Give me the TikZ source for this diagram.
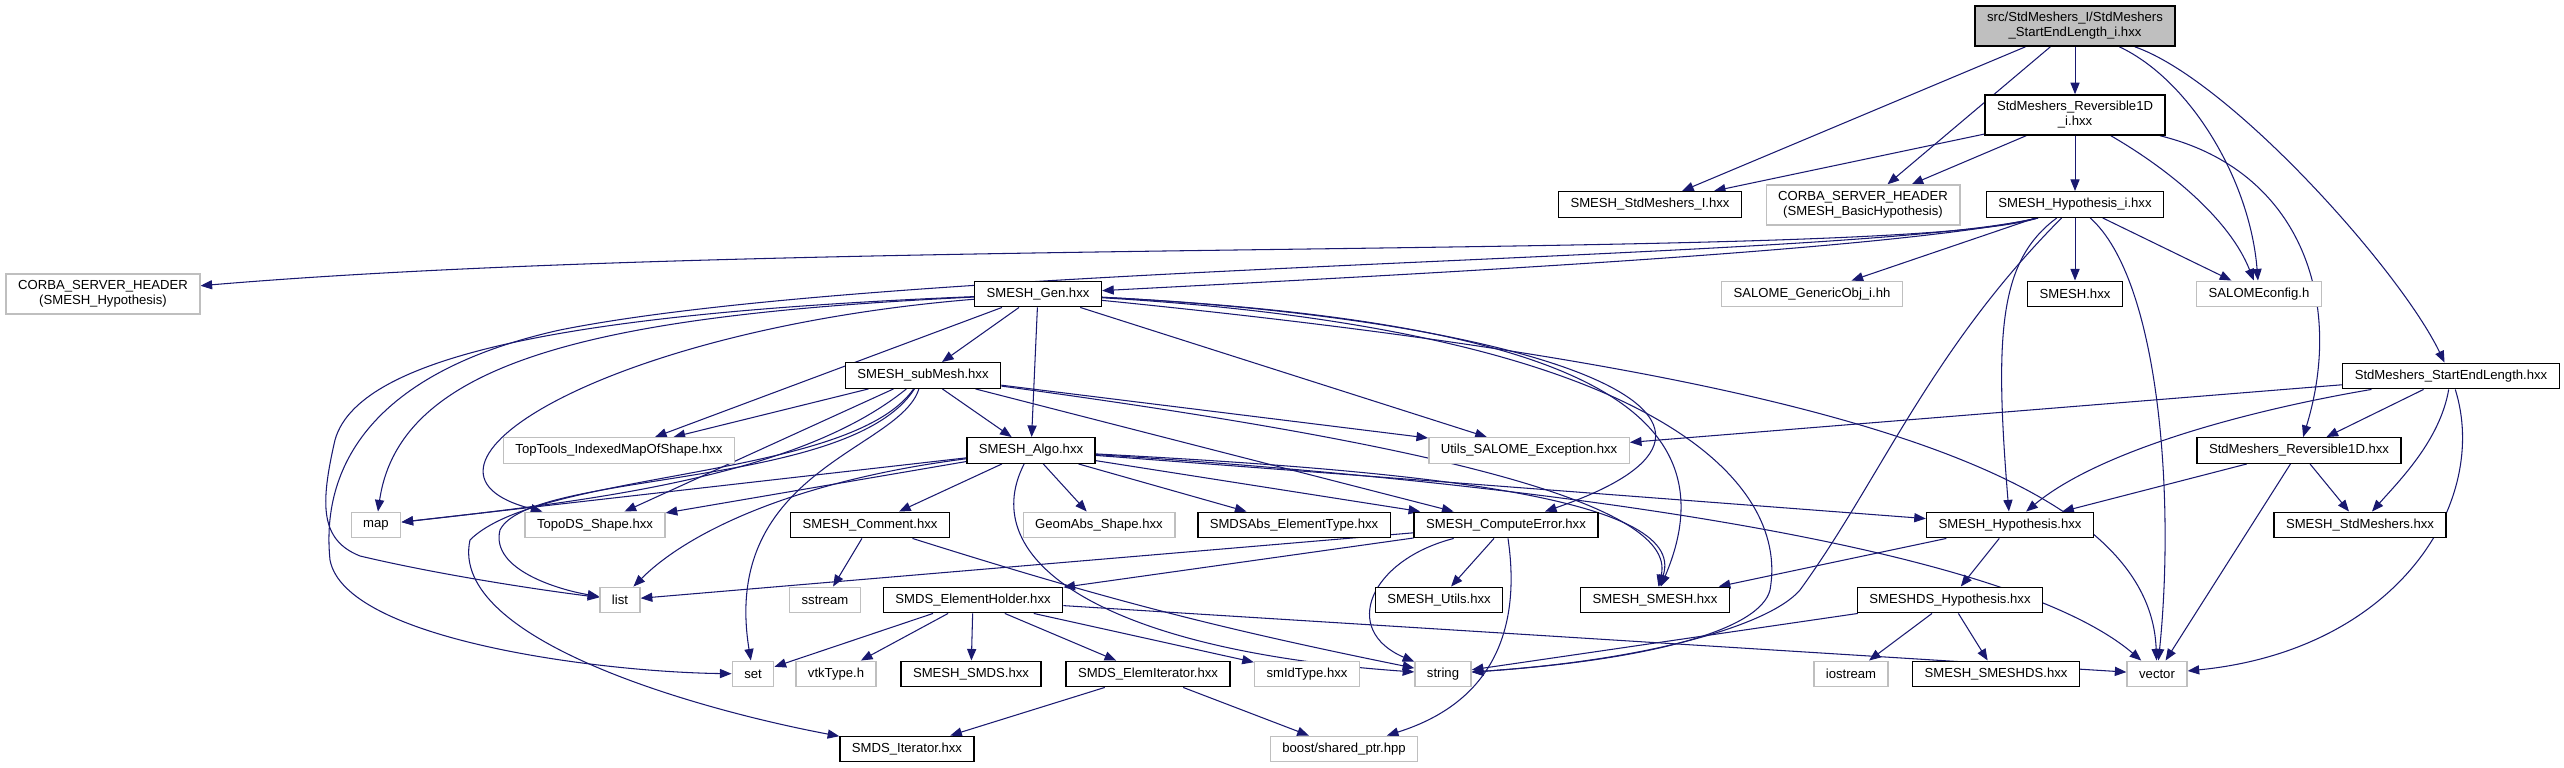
\documentclass[tikz,border=0pt]{standalone}
\usepackage{fontspec}
\setmainfont{Liberation Sans}
\usetikzlibrary{arrows.meta,backgrounds}
\definecolor{depblue}{RGB}{25,25,112}
\definecolor{boxgray}{RGB}{191,191,191}
\tikzset{
  file/.style={draw=black,line width=0.4pt,fill=white,align=center,inner xsep=0.12cm,inner ysep=0.065cm,minimum height=0.255cm,font=\fontsize{3.73pt}{4.27pt}\selectfont},
  extfile/.style={file,draw=boxgray},
  dep/.style={draw=depblue,line width=0.3pt,-{Triangle[length=3.3pt,width=2.6pt]}}
}

\begin{document}
\begin{tikzpicture}[x=0.01cm,y=0.01cm]
  \useasboundingbox (0,0) rectangle (2564,-768);

  \node[file,fill=boxgray] (root) at (2075,-26) {src/StdMeshers\_I/StdMeshers\\\_StartEndLength\_i.hxx};
  \node[file] (revi) at (2075,-115) {StdMeshers\_Reversible1D\\\_i.hxx};
  \node[file] (stdmi) at (1650,-204.5) {SMESH\_StdMeshers\_I.hxx};
  \node[extfile] (corbab) at (1863,-205) {CORBA\_SERVER\_HEADER\\(SMESH\_BasicHypothesis)};
  \node[file] (hypi) at (2075,-204.5) {SMESH\_Hypothesis\_i.hxx};
  \node[extfile] (corbah) at (103,-294) {CORBA\_SERVER\_HEADER\\(SMESH\_Hypothesis)};
  \node[file] (gen) at (1038,-294) {SMESH\_Gen.hxx};
  \node[extfile] (generic) at (1812,-294) {SALOME\_GenericObj\_i.hh};
  \node[file] (smesh) at (2075,-294) {SMESH.hxx};
  \node[extfile] (salcfg) at (2259,-294) {SALOMEconfig.h};
  \node[file] (submesh) at (923,-375.5) {SMESH\_subMesh.hxx};
  \node[file] (sel) at (2451,-376) {StdMeshers\_StartEndLength.hxx};
  \node[extfile] (toptools) at (619,-450.5) {TopTools\_IndexedMapOfShape.hxx};
  \node[file] (algo) at (1031,-450.5) {SMESH\_Algo.hxx};
  \node[extfile] (utils) at (1529,-450.5) {Utils\_SALOME\_Exception.hxx};
  \node[file] (rev) at (2299,-450.5) {StdMeshers\_Reversible1D.hxx};
  \node[extfile] (map) at (376,-525) {map};
  \node[extfile] (topods) at (595,-525) {TopoDS\_Shape.hxx};
  \node[file] (comment) at (870,-525) {SMESH\_Comment.hxx};
  \node[extfile] (geomabs) at (1099,-525) {GeomAbs\_Shape.hxx};
  \node[file] (smdsabs) at (1294,-525) {SMDSAbs\_ElementType.hxx};
  \node[file] (comperr) at (1506,-525) {SMESH\_ComputeError.hxx};
  \node[file] (hyp) at (2010,-525) {SMESH\_Hypothesis.hxx};
  \node[file] (stdm) at (2360,-525) {SMESH\_StdMeshers.hxx};
  \node[extfile] (list) at (620,-600) {list};
  \node[extfile] (sstream) at (825,-600) {sstream};
  \node[file] (holder) at (973,-600) {SMDS\_ElementHolder.hxx};
  \node[file] (utilsh) at (1439,-600) {SMESH\_Utils.hxx};
  \node[file] (smeshsmesh) at (1655,-600) {SMESH\_SMESH.hxx};
  \node[file] (dshyp) at (1950,-600) {SMESHDS\_Hypothesis.hxx};
  \node[extfile] (set) at (753,-674) {set};
  \node[extfile] (vtk) at (836,-674) {vtkType.h};
  \node[file] (smds) at (971,-674) {SMESH\_SMDS.hxx};
  \node[file] (elemit) at (1148,-674) {SMDS\_ElemIterator.hxx};
  \node[extfile] (smid) at (1307,-674) {smIdType.hxx};
  \node[extfile] (string) at (1443,-674) {string};
  \node[extfile] (iostream) at (1851,-674) {iostream};
  \node[file] (smeshds) at (1996,-674) {SMESH\_SMESHDS.hxx};
  \node[extfile] (vector) at (2157,-674) {vector};
  \node[file] (iter) at (907,-749) {SMDS\_Iterator.hxx};
  \node[extfile] (boost) at (1344,-749) {boost/shared\_ptr.hpp};

  \begin{pgfonlayer}{background}
  \draw[dep] (root) -- (stdmi);
  \draw[dep] (root) -- (corbab);
  \draw[dep] (root) -- (revi);
  \draw[dep] (root) .. controls (2190,-80) and (2250,-180) .. (salcfg);
  \draw[dep] (root) .. controls (2230,-80) and (2400,-270) .. (sel);

  \draw[dep] (revi) -- (stdmi);
  \draw[dep] (revi) -- (corbab);
  \draw[dep] (revi) -- (hypi);
  \draw[dep] (revi) .. controls (2170,-170) and (2230,-220) .. (salcfg);
  \draw[dep] (revi) .. controls (2300,-170) and (2345,-300) .. (rev);

  \draw[dep] (hypi.-160) .. controls (1900,-262) and (800,-235) .. (corbah);
  \draw[dep] (hypi.-160) .. controls (1900,-250) and (1400,-275) .. (gen);
  \draw[dep] (hypi) -- (generic);
  \draw[dep] (hypi) -- (smesh);
  \draw[dep] (hypi) -- (salcfg);
  \draw[dep] (hypi) .. controls (2000,-260) and (1994,-330) .. (hyp);
  \draw[dep] (hypi) .. controls (1930,-350) and (1880,-480) .. (1800,-590)
    .. controls (1770,-625) and (1650,-660) .. (string);
  \draw[dep] (hypi) .. controls (2160,-280) and (2175,-500) .. (vector);
  \draw[dep] (hypi.-160) .. controls (1850,-262) and (900,-262) .. (560,-330)
    .. controls (380,-370) and (320,-460) .. (330,-560)
    .. controls (345,-640) and (600,-672) .. (set);

  \draw[dep] (gen) -- (submesh);
  \draw[dep] (gen) -- (algo);
  \draw[dep] (gen) -- (toptools);
  \draw[dep] (gen) -- (utils);
  \draw[dep] (gen) .. controls (1550,-320) and (1810,-420) .. (comperr);
  \draw[dep] (gen) .. controls (1550,-320) and (1740,-400) .. (smeshsmesh);
  \draw[dep] (gen) .. controls (1650,-330) and (1790,-480) .. (1770,-590)
    .. controls (1760,-630) and (1650,-660) .. (string);
  \draw[dep] (gen) .. controls (1800,-370) and (2150,-470) .. (vector);
  \draw[dep] (gen) .. controls (600,-315) and (400,-360) .. (map);
  \draw[dep] (gen) .. controls (600,-330) and (380,-470) .. (topods);
  \draw[dep] (gen) .. controls (600,-312) and (360,-350) .. (335,-440)
    .. controls (320,-505) and (320,-540) .. (360,-556)
    .. controls (440,-575) and (540,-590) .. (list);

  \draw[dep] (submesh) -- (toptools);
  \draw[dep] (submesh) -- (algo);
  \draw[dep] (submesh) -- (utils);
  \draw[dep] (submesh) -- (comperr);
  \draw[dep] (submesh) -- (topods);
  \draw[dep] (submesh) .. controls (1400,-440) and (1680,-500) .. (smeshsmesh);
  \draw[dep] (submesh) .. controls (800,-475) and (600,-500) .. (map);
  \draw[dep] (submesh) .. controls (850,-490) and (530,-470) .. (500,-530)
    .. controls (490,-570) and (560,-590) .. (list);
  \draw[dep] (submesh) .. controls (850,-480) and (540,-470) .. (470,-540)
    .. controls (448,-640) and (700,-710) .. (iter);
  \draw[dep] (submesh) .. controls (900,-450) and (720,-470) .. (set);

  \draw[dep] (algo) -- (comment);
  \draw[dep] (algo) -- (geomabs);
  \draw[dep] (algo) -- (smdsabs);
  \draw[dep] (algo) -- (comperr);
  \draw[dep] (algo) -- (hyp);
  \draw[dep] (algo) -- (map);
  \draw[dep] (algo) -- (topods);
  \draw[dep] (algo) .. controls (1400,-470) and (1690,-495) .. (smeshsmesh);
  \draw[dep] (algo) .. controls (1500,-480) and (2000,-540) .. (vector);
  \draw[dep] (algo) .. controls (975,-560) and (1100,-650) .. (string);
  \draw[dep] (algo) .. controls (800,-480) and (690,-530) .. (list);

  \draw[dep] (comperr) -- (list);
  \draw[dep] (comperr) -- (holder);
  \draw[dep] (comperr) -- (utilsh);
  \draw[dep] (comperr) .. controls (1370,-560) and (1340,-630) .. (string);
  \draw[dep] (comperr) .. controls (1520,-620) and (1500,-700) .. (boost);

  \draw[dep] (comment) -- (sstream);
  \draw[dep] (comment) to[bend right=3] (string);

  \draw[dep] (holder) -- (set);
  \draw[dep] (holder) -- (vtk);
  \draw[dep] (holder) -- (smds);
  \draw[dep] (holder) -- (elemit);
  \draw[dep] (holder) -- (smid);
  \draw[dep] (holder) -- (vector);

  \draw[dep] (elemit) -- (iter);
  \draw[dep] (elemit) -- (boost);

  \draw[dep] (hyp) -- (dshyp);
  \draw[dep] (hyp) -- (smeshsmesh);
  \draw[dep] (dshyp) -- (iostream);
  \draw[dep] (dshyp) -- (smeshds);
  \draw[dep] (dshyp) -- (string);

  \draw[dep] (rev) -- (hyp);
  \draw[dep] (rev) -- (stdm);
  \draw[dep] (rev) -- (vector);

  \draw[dep] (sel) -- (utils);
  \draw[dep] (sel) -- (rev);
  \draw[dep] (sel) .. controls (2250,-410) and (2100,-450) .. (hyp);
  \draw[dep] (sel) .. controls (2440,-440) and (2400,-480) .. (stdm);
  \draw[dep] (sel) .. controls (2490,-500) and (2400,-650) .. (vector);
  \end{pgfonlayer}
\end{tikzpicture}
\end{document}
